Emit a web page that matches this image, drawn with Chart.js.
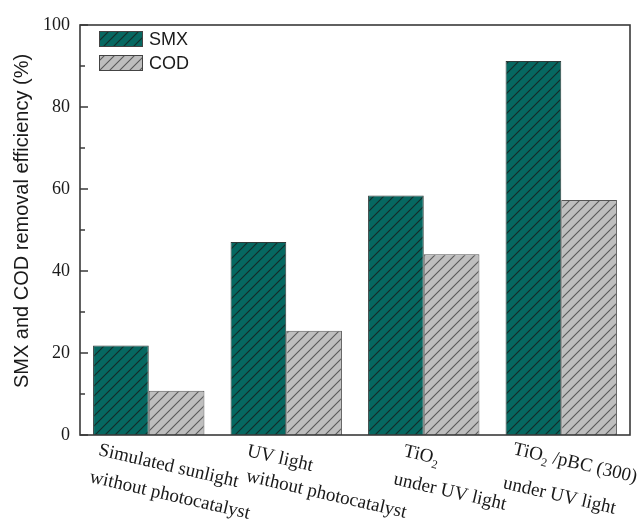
<!DOCTYPE html>
<html>
<head>
<meta charset="utf-8">
<script src="https://cdn.jsdelivr.net/npm/chart.js@4/dist/chart.umd.min.js"></script>
<style>
  html, body { margin: 0; padding: 0; background: #ffffff; }
  canvas { display: block; }
</style>
</head>
<body>
<canvas id="chart" width="641" height="524"></canvas>
<script>
// Treatment conditions (each label is drawn on two lines, "₂" is set as a subscript)
const categories = [
  ["Simulated sunlight", "without photocatalyst"],
  ["UV light", "without photocatalyst"],
  ["TiO₂", "under UV light"],
  ["TiO₂ /pBC (300)", "under UV light"]
];
const seriesNames = ["SMX", "COD"];
const smxRemoval = [21.8, 47.1, 58.4, 91.2];
const codRemoval = [10.8, 25.4, 44.1, 57.3];
const yTicks = [0, 20, 40, 60, 80, 100];
const yTitle = "SMX and COD removal efficiency (%)";

// Diagonal hatch fill
function hatch(fill, stroke) {
  const p = 10;
  const c = document.createElement("canvas");
  c.width = p; c.height = p;
  const g = c.getContext("2d");
  g.fillStyle = fill;
  g.fillRect(0, 0, p, p);
  g.strokeStyle = stroke;
  g.lineWidth = 1.1;
  g.beginPath();
  g.moveTo(-1, p + 1); g.lineTo(p + 1, -1);
  g.moveTo(-1, 1); g.lineTo(1, -1);
  g.moveTo(p - 1, p + 1); g.lineTo(p + 1, p - 1);
  g.stroke();
  return g.createPattern(c, "repeat");
}
const ctx0 = document.getElementById("chart").getContext("2d");
const smxFill = hatch("#066861", "#142b29");
const codFill = hatch("#bebebe", "#595959");

const SERIF = "'Liberation Serif', 'Times New Roman', serif";
const SANS = "'Liberation Sans', Arial, sans-serif";

// Per-line anchor of the slanted category labels: [dx from category centre, baseline y]
const labelAnchors = [
  [[-51, 455], [-60, 482]],
  [[-40, 456], [-41, 481]],
  [[-21, 456], [-31, 484]],
  [[-49, 454], [-59, 488]]
];
const labelAngle = 13 * Math.PI / 180;
const labelSize = 19;

function drawRich(ctx, text, size) {
  // draws text, rendering "₂" as a lowered, smaller "2"
  let x = 0;
  const parts = text.split("₂");
  parts.forEach((part, i) => {
    ctx.font = size + "px " + SERIF;
    ctx.fillText(part, x, 0);
    x += ctx.measureText(part).width;
    if (i < parts.length - 1) {
      ctx.font = Math.round(size * 0.62) + "px " + SERIF;
      ctx.fillText("2", x, 5);
      x += ctx.measureText("2").width;
    }
  });
}

const decorations = {
  id: "decorations",
  afterDraw(chart) {
    const { ctx, chartArea: a, scales } = chart;
    const xs = scales.x, ys = scales.y;
    ctx.save();

    // frame
    ctx.strokeStyle = "#3a3a3a";
    ctx.lineWidth = 1.6;
    ctx.strokeRect(a.left, a.top, a.right - a.left, a.bottom - a.top);

    // inward ticks on the left axis (major every 20, minor every 10)
    ctx.lineWidth = 1.4;
    ctx.beginPath();
    for (let i = 0; i < yTicks.length; i++) {
      const y = ys.getPixelForValue(yTicks[i]);
      ctx.moveTo(a.left, y); ctx.lineTo(a.left + 8, y);
      if (i < yTicks.length - 1) {
        const ym = ys.getPixelForValue((yTicks[i] + yTicks[i + 1]) / 2);
        ctx.moveTo(a.left, ym); ctx.lineTo(a.left + 5, ym);
      }
    }
    ctx.stroke();

    // legend
    const ds = chart.data.datasets;
    ds.forEach((d, i) => {
      const bx = a.left + 19, by = a.top + 6 + i * 24;
      ctx.fillStyle = d.backgroundColor;
      ctx.fillRect(bx, by, 44, 16);
      ctx.strokeStyle = "#444";
      ctx.lineWidth = 1;
      ctx.strokeRect(bx + 0.5, by + 0.5, 43, 15);
      ctx.fillStyle = "#1a1a1a";
      ctx.font = "18px " + SANS;
      ctx.textBaseline = "middle";
      ctx.textAlign = "left";
      ctx.fillText(d.label, bx + 50, by + 9);
    });

    // y axis title
    ctx.save();
    ctx.translate(22, 221);
    ctx.rotate(-Math.PI / 2);
    ctx.fillStyle = "#1a1a1a";
    ctx.font = "20px " + SANS;
    ctx.textAlign = "center";
    ctx.textBaseline = "middle";
    ctx.fillText(yTitle, 0, 0);
    ctx.restore();

    // slanted category labels
    ctx.fillStyle = "#1a1a1a";
    ctx.textAlign = "left";
    ctx.textBaseline = "alphabetic";
    categories.forEach((lines, i) => {
      const cx = xs.getPixelForValue(i);
      lines.forEach((line, j) => {
        const [dx, by] = labelAnchors[i][j];
        ctx.save();
        ctx.translate(cx + dx, by);
        ctx.rotate(labelAngle);
        drawRich(ctx, line, labelSize);
        ctx.restore();
      });
    });

    ctx.restore();
  }
};

new Chart(ctx0, {
  type: "bar",
  data: {
    labels: categories.map(l => l.join(" ")),
    datasets: [
      { label: seriesNames[0], data: smxRemoval, backgroundColor: smxFill, borderColor: "#2e3b3a", borderWidth: 1 },
      { label: seriesNames[1], data: codRemoval, backgroundColor: codFill, borderColor: "#555555", borderWidth: 1 }
    ]
  },
  options: {
    responsive: false,
    animation: false,
    devicePixelRatio: 1,
    layout: { padding: { top: 25, right: 11, left: 0, bottom: 0 } },
    datasets: { bar: { categoryPercentage: 0.81, barPercentage: 1.0 } },
    plugins: { legend: { display: false }, tooltip: { enabled: false } },
    scales: {
      x: {
        grid: { display: false, drawTicks: false },
        border: { display: false },
        ticks: { display: false },
        afterFit: s => { s.height = 89; }
      },
      y: {
        min: 0, max: 100,
        afterBuildTicks: s => { s.ticks = yTicks.map(v => ({ value: v })); },
        ticks: { color: "#1a1a1a", padding: 10, font: { family: SERIF, size: 18 } },
        grid: { display: false, drawTicks: false },
        border: { display: false },
        afterFit: s => { s.width = 80; }
      }
    }
  },
  plugins: [decorations]
});
</script>
</body>
</html>
